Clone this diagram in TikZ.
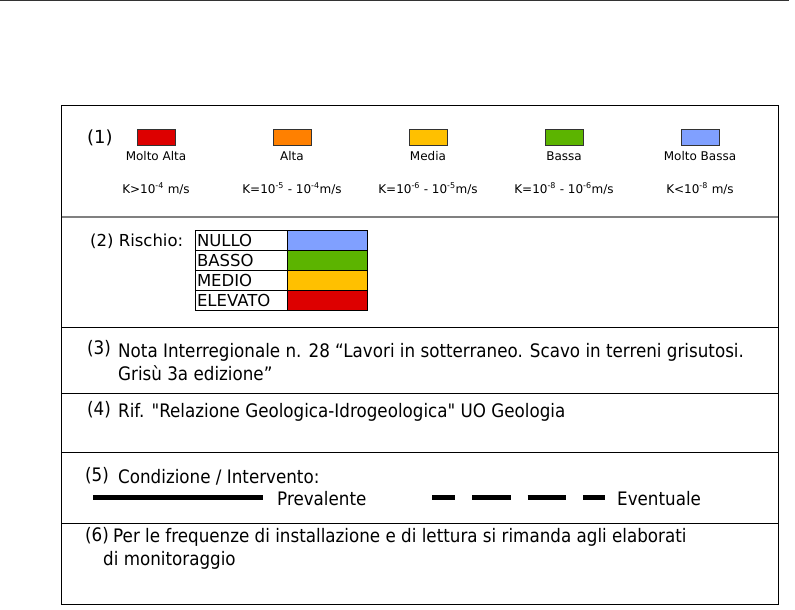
\documentclass[tikz,border=0pt]{standalone}
\usepackage{fontspec}
\setmainfont{DejaVu Sans}
\newfontfamily\notefont[FakeStretch=0.9]{DejaVu Sans}
\usetikzlibrary{positioning}

\definecolor{kred}{RGB}{221,0,0}
\definecolor{korange}{RGB}{255,128,0}
\definecolor{kyellow}{RGB}{255,192,0}
\definecolor{kgreen}{RGB}{92,180,0}
\definecolor{kblue}{RGB}{128,160,255}

\begin{document}
\begin{tikzpicture}[x=1pt,y=-1pt,
    swatch/.style={draw=black!80,line width=0.8pt,minimum width=38pt,minimum height=16pt,inner sep=0pt},
    small/.style={font=\fontsize{12}{14}\selectfont,inner sep=0pt,anchor=base},
    big/.style={font=\fontsize{16.5}{19}\selectfont,inner sep=0pt,anchor=base west},
    note/.style={font=\notefont\fontsize{18.6}{23}\selectfont,inner sep=0pt,anchor=base west},
    namecell/.style={draw,line width=0.8pt,outer sep=0pt,minimum height=20pt,text width=88pt,
      inner xsep=2pt,inner ysep=0pt,align=left,font=\fontsize{16.5}{19}\selectfont},
    colcell/.style={draw,line width=0.8pt,outer sep=0pt,minimum height=20pt,minimum width=80pt,inner sep=0pt},
    rule/.style={line width=0.8pt}]

    \useasboundingbox (0,0) rectangle (795,610);

    % frame and rows
    \draw[line width=1.5pt,black!80] (0,0.75) -- (789,0.75);
    \draw[rule] (61.5,105.5) rectangle (778,604);
    \draw[line width=1.5pt,black!50] (61.5,217) -- (778,217);
    \foreach \y in {327,393,452,523}
        \draw[rule] (61.5,\y) -- (778,\y);

    % (1) permeability
    \node[big,font=\fontsize{18}{20}\selectfont] (n1) at (87,143) {(1)};
    \foreach \col/\name/\kval [count=\i] in {
        kred/Molto Alta/{K>10\textsuperscript{-4} m/s},
        korange/Alta/{K=10\textsuperscript{-5} - 10\textsuperscript{-4}m/s},
        kyellow/Media/{K=10\textsuperscript{-6} - 10\textsuperscript{-5}m/s},
        kgreen/Bassa/{K=10\textsuperscript{-8} - 10\textsuperscript{-6}m/s},
        kblue/Molto Bassa/{K<10\textsuperscript{-8} m/s}} {
        \node[swatch,fill=\col] (sw\i) at (20+136*\i,137) {};
        \node[small] (nm\i) at (20+136*\i,160) {\name};
        \node[small] (kv\i) at (20+136*\i,193) {\kval};
    }

    % (2) rischio
    \node[big] (n2) at (90,246) {(2) Rischio:};
    \node[namecell] (r1) at (241,240.5) {NULLO};
    \node[namecell,below=0pt of r1] (r2) {BASSO};
    \node[namecell,below=0pt of r2] (r3) {MEDIO};
    \node[namecell,below=0pt of r3] (r4) {ELEVATO};
    \node[colcell,fill=kblue,right=0pt of r1] (c1) {};
    \node[colcell,fill=kgreen,right=0pt of r2] (c2) {};
    \node[colcell,fill=kyellow,right=0pt of r3] (c3) {};
    \node[colcell,fill=kred,right=0pt of r4] (c4) {};

    % (3) - (6) notes
    \node[note] (n3) at (87,354) {(3)};
    \node[note] (t3a) at (118,357) {Nota Interregionale n. 28 “Lavori in sotterraneo. Scavo in terreni grisutosi.};
    \node[note] (t3b) at (118,380) {Grisù 3a edizione”};

    \node[note] (n4) at (87,415) {(4)};
    \node[note] (t4) at (118,417) {Rif. "Relazione Geologica-Idrogeologica" UO Geologia};

    \node[note] (n5) at (85,481) {(5)};
    \node[note] (t5) at (118,483) {Condizione / Intervento:};
    \coordinate (preva) at (93,497.5);
    \coordinate (prevb) at (263,497.5);
    \draw[line width=5.5pt] (preva) -- (prevb);
    \node[note] (prev) at (277,505) {Prevalente};
    \coordinate (evena) at (432,497.5);
    \coordinate (evenb) at (605,497.5);
    \draw[line width=5.5pt,dash pattern=on 38.5pt off 17pt,dash phase=15.5pt] (evena) -- (evenb);
    \node[note] (even) at (617,505) {Eventuale};

    \node[note] (n6) at (85,541) {(6)};
    \node[note] (t6a) at (113,542) {Per le frequenze di installazione e di lettura si rimanda agli elaborati};
    \node[note] (t6b) at (103,565) {di monitoraggio};
\end{tikzpicture}
\end{document}
